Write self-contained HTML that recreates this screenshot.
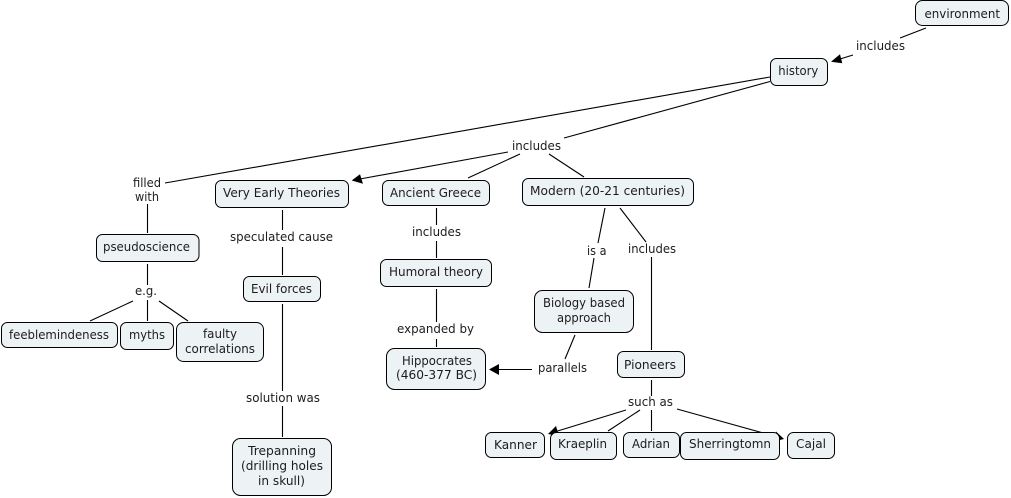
<!DOCTYPE html>
<html><head><meta charset="utf-8"><title>Concept map</title>
<style>
html,body{margin:0;padding:0;background:#fff;width:1011px;height:498px;overflow:hidden}
svg{display:block}
text{font-family:"DejaVu Sans","Liberation Sans",sans-serif;font-size:12px;fill:#1c1c1c}
.l line{stroke:#000;stroke-width:1.1;fill:none}
.b rect{fill:#edf3f5;stroke:#000;stroke-width:1}
</style></head><body>
<svg width="1011" height="498" viewBox="0 0 1011 498" xmlns="http://www.w3.org/2000/svg">
<g class="l">
<line x1="926" y1="28" x2="900" y2="38"/>
<line x1="853" y1="55" x2="840" y2="59"/>
<line x1="770" y1="77" x2="165" y2="183"/>
<line x1="770" y1="81.500" x2="564" y2="138"/>
<line x1="508" y1="152" x2="360" y2="179"/>
<line x1="520" y1="154" x2="468" y2="178"/>
<line x1="549" y1="154" x2="584" y2="177"/>
<line x1="282.500" y1="210" x2="282.500" y2="230"/>
<line x1="282.500" y1="247" x2="282.500" y2="275"/>
<line x1="147.500" y1="204" x2="147.500" y2="233"/>
<line x1="147.500" y1="264" x2="147.500" y2="285"/>
<line x1="147.500" y1="300" x2="147.500" y2="321"/>
<line x1="133" y1="301" x2="90" y2="321"/>
<line x1="159" y1="301" x2="188" y2="321"/>
<line x1="282.500" y1="304" x2="282.500" y2="391"/>
<line x1="282.500" y1="406" x2="282.500" y2="437"/>
<line x1="436.500" y1="208" x2="436.500" y2="225"/>
<line x1="436.500" y1="241" x2="436.500" y2="258"/>
<line x1="436.500" y1="289" x2="436.500" y2="322"/>
<line x1="436.500" y1="339" x2="436.500" y2="347"/>
<line x1="605" y1="208" x2="598" y2="243"/>
<line x1="594" y1="258" x2="589" y2="288"/>
<line x1="620" y1="208" x2="646" y2="242"/>
<line x1="651.500" y1="257" x2="651.500" y2="350"/>
<line x1="575" y1="335" x2="565" y2="359"/>
<line x1="497" y1="369.500" x2="532" y2="369.500"/>
<line x1="651.500" y1="380" x2="651.500" y2="396"/>
<line x1="651.500" y1="410" x2="651.500" y2="431"/>
<line x1="626" y1="410" x2="556" y2="431.500"/>
<line x1="640" y1="410" x2="608" y2="431"/>
<line x1="677" y1="409" x2="776" y2="436.500"/>
</g>
<g fill="#000">
<polygon points="831,61.700 840,54.300 842.300,63.300"/>
<polygon points="351.700,180.500 360,174.300 363,183.800"/>
<polygon points="489,369.500 499,364 499,375"/>
<polygon points="548,434 556,426 559,436"/>
<polygon points="784,439 776,431.500 773.500,441.500"/>
</g>
<g class="b">
<rect x="915.500" y="0.500" width="93" height="25" rx="7"/>
<rect x="770.500" y="58.500" width="57" height="27" rx="6"/>
<rect x="215.500" y="180.500" width="133" height="27" rx="6"/>
<rect x="382.500" y="180.500" width="107" height="25" rx="6"/>
<rect x="522.500" y="178.500" width="171" height="27" rx="6"/>
<rect x="96.500" y="234.500" width="102.500" height="27" rx="6"/>
<rect x="243.500" y="276.500" width="77" height="25" rx="6"/>
<rect x="380.500" y="259.500" width="111" height="27" rx="6"/>
<rect x="534.500" y="290.500" width="99" height="42" rx="8"/>
<rect x="386.500" y="348.500" width="99" height="41" rx="8"/>
<rect x="617.500" y="351.500" width="67" height="26" rx="6"/>
<rect x="1.500" y="322.500" width="116" height="25" rx="6"/>
<rect x="120.500" y="322.500" width="53" height="27" rx="6"/>
<rect x="176.500" y="322.500" width="87" height="39" rx="7"/>
<rect x="232.500" y="438.500" width="99" height="57" rx="8"/>
<rect x="485.500" y="432.500" width="59" height="25" rx="6"/>
<rect x="550.500" y="432.500" width="66" height="27" rx="6"/>
<rect x="623.500" y="432.500" width="56" height="25" rx="6"/>
<rect x="680.500" y="432.500" width="99" height="27" rx="6"/>
<rect x="787.500" y="432.500" width="47" height="26" rx="6"/>
</g>
<g>
<text x="924.500" y="18" textLength="75.500" lengthAdjust="spacingAndGlyphs">environment</text>
<text x="856" y="50" textLength="49" lengthAdjust="spacingAndGlyphs">includes</text>
<text x="778.300" y="75" textLength="40" lengthAdjust="spacingAndGlyphs">history</text>
<text x="512" y="150" textLength="49" lengthAdjust="spacingAndGlyphs">includes</text>
<text x="133" y="187" textLength="28" lengthAdjust="spacingAndGlyphs">filled</text>
<text x="135" y="201" textLength="24" lengthAdjust="spacingAndGlyphs">with</text>
<text x="223" y="197" textLength="117" lengthAdjust="spacingAndGlyphs">Very Early Theories</text>
<text x="390" y="197" textLength="91" lengthAdjust="spacingAndGlyphs">Ancient Greece</text>
<text x="530" y="195" textLength="155" lengthAdjust="spacingAndGlyphs">Modern (20-21 centuries)</text>
<text x="230" y="241" textLength="103" lengthAdjust="spacingAndGlyphs">speculated cause</text>
<text x="103" y="251" textLength="87" lengthAdjust="spacingAndGlyphs">pseudoscience</text>
<text x="412" y="236" textLength="49" lengthAdjust="spacingAndGlyphs">includes</text>
<text x="587" y="255" textLength="19.500" lengthAdjust="spacingAndGlyphs">is a</text>
<text x="628" y="253" textLength="48" lengthAdjust="spacingAndGlyphs">includes</text>
<text x="389" y="276" textLength="94" lengthAdjust="spacingAndGlyphs">Humoral theory</text>
<text x="251" y="293" textLength="61" lengthAdjust="spacingAndGlyphs">Evil forces</text>
<text x="135" y="295" textLength="22" lengthAdjust="spacingAndGlyphs">e.g.</text>
<text x="543" y="307" textLength="82" lengthAdjust="spacingAndGlyphs">Biology based</text>
<text x="557" y="322" textLength="54" lengthAdjust="spacingAndGlyphs">approach</text>
<text x="397" y="333" textLength="77" lengthAdjust="spacingAndGlyphs">expanded by</text>
<text x="9" y="339" textLength="100" lengthAdjust="spacingAndGlyphs">feeblemindeness</text>
<text x="129" y="339" textLength="36" lengthAdjust="spacingAndGlyphs">myths</text>
<text x="203" y="338" textLength="34" lengthAdjust="spacingAndGlyphs">faulty</text>
<text x="185" y="353" textLength="70" lengthAdjust="spacingAndGlyphs">correlations</text>
<text x="402" y="365" textLength="70" lengthAdjust="spacingAndGlyphs">Hippocrates</text>
<text x="396" y="379" textLength="81" lengthAdjust="spacingAndGlyphs">(460-377 BC)</text>
<text x="538" y="372" textLength="49" lengthAdjust="spacingAndGlyphs">parallels</text>
<text x="624" y="369" textLength="52" lengthAdjust="spacingAndGlyphs">Pioneers</text>
<text x="246" y="402" textLength="74" lengthAdjust="spacingAndGlyphs">solution was</text>
<text x="628" y="406" textLength="45" lengthAdjust="spacingAndGlyphs">such as</text>
<text x="494" y="449" textLength="43" lengthAdjust="spacingAndGlyphs">Kanner</text>
<text x="558" y="448" textLength="49" lengthAdjust="spacingAndGlyphs">Kraeplin</text>
<text x="632" y="448" textLength="38" lengthAdjust="spacingAndGlyphs">Adrian</text>
<text x="689" y="448" textLength="82" lengthAdjust="spacingAndGlyphs">Sherringtomn</text>
<text x="796" y="448" textLength="30" lengthAdjust="spacingAndGlyphs">Cajal</text>
<text x="248" y="455" textLength="68" lengthAdjust="spacingAndGlyphs">Trepanning</text>
<text x="241" y="470" textLength="82" lengthAdjust="spacingAndGlyphs">(drilling holes</text>
<text x="258" y="485" textLength="47" lengthAdjust="spacingAndGlyphs">in skull)</text>
</g>
</svg>
</body></html>
